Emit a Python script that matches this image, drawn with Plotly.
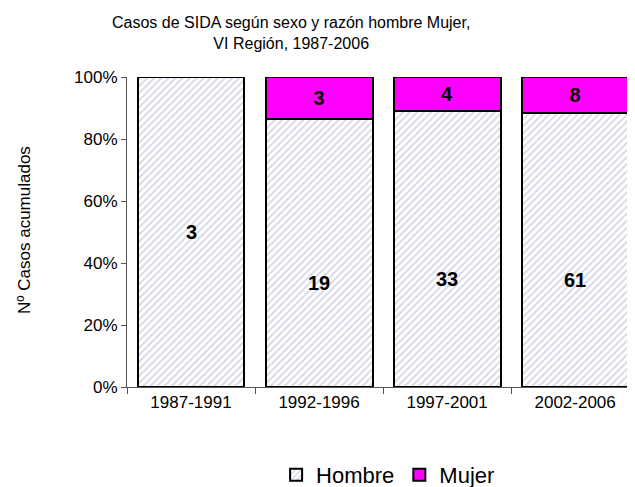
import plotly.graph_objects as go

periodos = ['1987-1991', '1992-1996', '1997-2001', '2002-2006']
hombre = [3, 19, 33, 61]
mujer = [0, 3, 4, 8]
ticks_pct = [0, 20, 40, 60, 80, 100]

totales = [h + m for h, m in zip(hombre, mujer)]
pct_hombre = [100 * h / t for h, t in zip(hombre, totales)]

fig = go.Figure()
fig.add_trace(go.Bar(
    x=periodos, y=hombre, name='Hombre', textposition='none',
    marker=dict(color='white', line=dict(color='black', width=2),
                pattern=dict(shape='/', fgcolor='#aeaed4', bgcolor='white',
                             size=5, solidity=0.35)),
))
fig.add_trace(go.Bar(
    x=periodos, y=mujer, name='Mujer',
    text=[str(v) if v else '' for v in mujer],
    textposition='inside', insidetextanchor='middle',
    textfont=dict(family='Arial', size=20, color='black'),
    texttemplate='<b>%{text}</b>',
    marker=dict(color='#ff00ff', line=dict(color='black', width=2)),
))

# etiquetas de hombres (Excel las deja algo mas abajo cuando hay mujeres)
etiquetas = []
for p, h, m, pc in zip(periodos, hombre, mujer, pct_hombre):
    etiquetas.append(dict(x=p, y=pc / 2, text=f'<b>{h}</b>', showarrow=False,
                          xref='x', yref='y', yshift=-30 if m else 0,
                          font=dict(size=20, color='black')))

etiquetas.append(dict(text='Nº Casos acumulados', textangle=-90, showarrow=False,
                      xref='paper', yref='paper', x=-0.2, y=0.506,
                      xanchor='center', yanchor='middle', font=dict(size=17)))

fig.update_layout(
    width=635, height=487,
    barmode='stack', barnorm='percent', bargap=0.165,
    paper_bgcolor='white', plot_bgcolor='white',
    font=dict(family='Arial', size=17, color='black'),
    margin=dict(l=119, r=0, t=69, b=108, autoexpand=False),
    title=dict(text='Casos de SIDA según sexo y razón hombre Mujer,<br>VI Región, 1987-2006',
               x=0.446, xanchor='center', y=0.958, yanchor='top',
               font=dict(size=16)),
    showlegend=True,
    legend=dict(orientation='h', x=0.506, xanchor='center', y=-0.284, yanchor='middle',
                font=dict(size=22), traceorder='normal', itemwidth=30),
    annotations=etiquetas,
)
fig.update_xaxes(
    range=[-0.5, 3.53], showline=True, linecolor='#555', linewidth=1,
    ticks='outside', tickson='boundaries', ticklen=6, tickcolor='#555',
    showgrid=False, automargin=False,
)
fig.update_yaxes(
    range=[0, 100], tickmode='array', tickvals=ticks_pct,
    ticktext=[f'{v}%' for v in ticks_pct],
    showline=True, linecolor='#555', linewidth=1, ticks='outside', ticklen=5,
    tickcolor='#555', showgrid=False, automargin=False,
)

fig.write_html('out.html')
